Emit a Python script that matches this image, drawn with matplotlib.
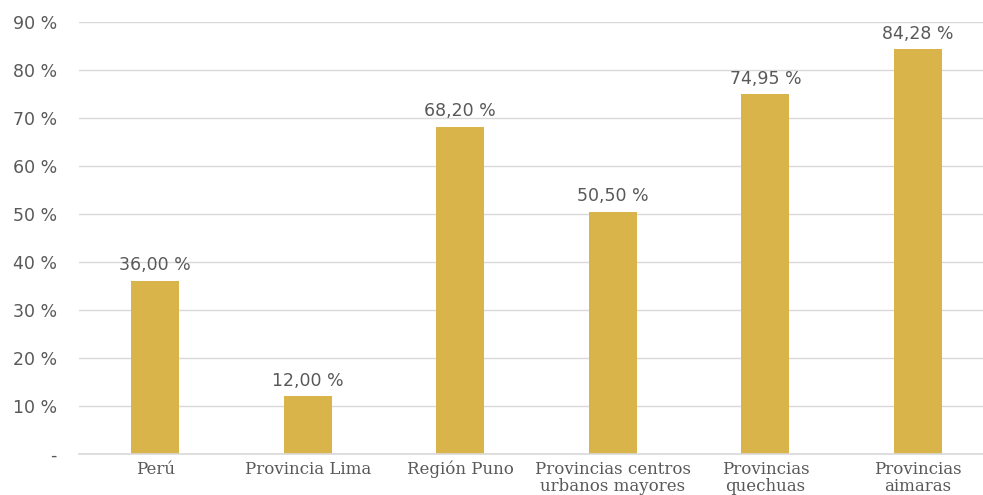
import matplotlib
matplotlib.use("Agg")
import matplotlib.pyplot as plt

categories = ["Perú", "Provincia Lima", "Región Puno", "Provincias centros\nurbanos mayores",
              "Provincias\nquechuas", "Provincias\naimaras"]
values = [36.00, 12.00, 68.20, 50.50, 74.95, 84.28]
value_labels = ["36,00 %", "12,00 %", "68,20 %", "50,50 %", "74,95 %", "84,28 %"]
yticks = [0, 10, 20, 30, 40, 50, 60, 70, 80, 90]
ytick_labels = ["-", "10 %", "20 %", "30 %", "40 %", "50 %", "60 %", "70 %", "80 %", "90 %"]

W, H = 983, 495
fig = plt.figure(figsize=(W/100, H/100), dpi=100)
left, right, top, bottom = 79, 983, 22, 454
ax = fig.add_axes([left/W, 1-bottom/H, (right-left)/W, (bottom-top)/H])

gray = "#595959"
bar_color = "#D9B44A"
x = list(range(len(categories)))
ax.bar(x, values, width=0.315, color=bar_color, zorder=3)
for xi, v, lab in zip(x, values, value_labels):
    ax.text(xi, v + 1.4, lab, ha="center", va="bottom", fontsize=12.5, color=gray,
            family="DejaVu Sans")

ax.set_xlim(-0.5, 5.426)
ax.set_ylim(0, 90)
ax.set_yticks(yticks)
ax.set_yticklabels(ytick_labels, fontsize=12.5, color=gray)
ax.set_xticks(x)
ax.set_xticklabels(categories, fontsize=12, color=gray, family="DejaVu Serif", linespacing=1.0)
ax.tick_params(axis="both", length=0)
ax.tick_params(axis="y", pad=16)
ax.tick_params(axis="x", pad=5)
ax.grid(axis="y", color="#d9d9d9", linewidth=1, zorder=0)
for s in ["top", "right", "left"]:
    ax.spines[s].set_visible(False)
ax.spines["bottom"].set_color("#d9d9d9")
ax.spines["bottom"].set_linewidth(1.2)
ax.spines["bottom"].set_zorder(4)

fig.savefig("out.png", dpi=100)
